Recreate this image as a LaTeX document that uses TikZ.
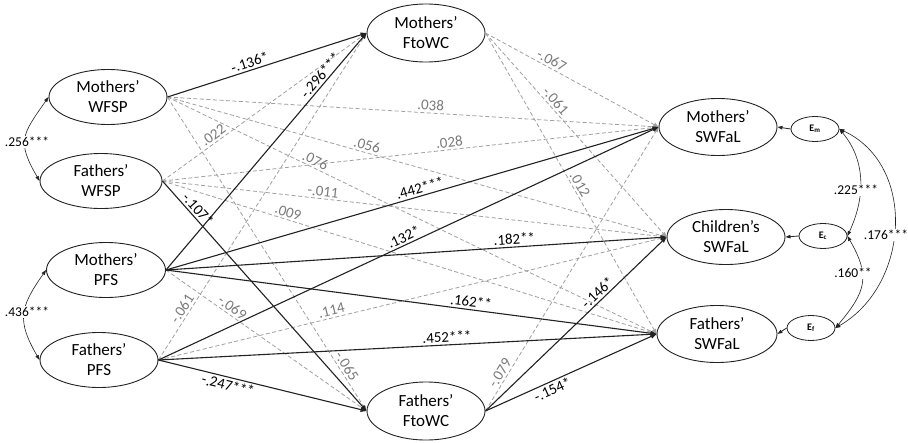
\documentclass[tikz,border=0pt]{standalone}
\usepackage{fontspec}
\setmainfont{Carlito}
\usetikzlibrary{shapes.geometric,arrows.meta}
\definecolor{dashgrey}{HTML}{A0A0A0}
\definecolor{labgrey}{HTML}{7A7A7A}
\definecolor{ink}{HTML}{222222}
\begin{document}
\begin{tikzpicture}[x=1pt,y=1pt,
  lat/.style={ellipse, draw=ink, line width=0.9pt, minimum width=118pt, minimum height=55pt, inner sep=0pt, align=center, font=\fontsize{17}{20}\selectfont},
  err/.style={ellipse, draw=ink, line width=0.8pt, minimum width=48pt, minimum height=25pt, inner sep=0pt, font=\fontsize{10}{12}\selectfont\bfseries},
  sig/.style={draw=ink, line width=1.1pt, -{Triangle[length=6pt,width=4.5pt]}},
  ns/.style={draw=dashgrey, line width=0.8pt, dash pattern=on 4pt off 2.5pt, -{Triangle[length=5pt,width=4pt]}},
  slab/.style={sloped, above, inner sep=2pt, font=\fontsize{15}{17}\selectfont, text=black},
  nlab/.style={sloped, above, inner sep=2pt, font=\fontsize{15}{17}\selectfont, text=labgrey},
  cov/.style={draw=ink, line width=0.6pt, {Triangle[length=5pt,width=3.5pt]}-{Triangle[length=5pt,width=3.5pt]}},
  covlab/.style={fill=white, inner sep=1pt, font=\fontsize{13.5}{15}\selectfont}
]
\useasboundingbox (0,0) rectangle (908,-442);
\fill[white] (0,0) rectangle (908,-442);

% latent variables
\node[lat] (mW) at (108,-97) {Mothers’\\WFSP};
\node[lat, minimum width=122pt] (fW) at (101,-181) {Fathers’\\WFSP};
\node[lat, minimum width=119pt] (mP) at (106,-270) {Mothers’\\PFS};
\node[lat] (fP) at (99,-360) {Fathers’\\PFS};
\node[lat, minimum height=58pt] (mF) at (426,-33) {Mothers’\\FtoWC};
\node[lat, minimum height=58pt] (fF) at (426,-411) {Fathers’\\FtoWC};
\node[lat, minimum height=57pt] (mS) at (718,-127) {Mothers’\\SWFaL};
\node[lat] (cS) at (726,-237) {Children’s\\SWFaL};
\node[lat, minimum width=120pt, minimum height=57pt] (fS) at (717,-334) {Fathers’\\SWFaL};
\node[err] (Em) at (815,-129) {E\textsubscript{m}};
\node[err] (Ec) at (823,-236) {E\textsubscript{c}};
\node[err] (Ef) at (811,-328) {E\textsubscript{f}};

% non-significant paths
\draw[ns] (fW.east) -- node[nlab, pos=0.27] {.022} (mF.west);
\draw[ns] (fP.east) -- node[nlab, pos=0.144] {-.061} (mF.west);
\draw[ns] (mW.east) -- node[nlab, pos=0.87] {-.065} (fF.west);
\draw[ns] (mP.east) -- node[nlab, pos=0.31] {-.069} (fF.west);
\draw[ns] (mW.east) -- node[nlab, pos=0.535] {.038} (mS.west);
\draw[ns] (fW.east) -- node[nlab, pos=0.58] {.028} (mS.west);
\draw[ns] (mF.east) -- node[nlab, pos=0.362] {-.067} (mS.west);
\draw[ns] (fF.east) -- node[nlab, pos=0.12] {-.079} (mS.west);
\draw[ns] (mW.east) -- node[nlab, pos=0.396] {.056} (cS.west);
\draw[ns] (fW.east) -- node[nlab, pos=0.317] {-.011} (cS.west);
\draw[ns] (fP.east) -- node[nlab, pos=0.344] {.114} (cS.west);
\draw[ns] (mF.east) -- node[nlab, pos=0.357] {-.061} (cS.west);
\draw[ns] (mW.east) -- node[nlab, pos=0.296] {.076} (fS.west);
\draw[ns] (fW.east) -- node[nlab, pos=0.25] {.009} (fS.west);
\draw[ns] (mF.east) -- node[nlab, pos=0.515] {.012} (fS.west);

% significant paths
\draw[sig] (mW.east) -- node[slab, pos=0.425] {-.136*} (mF.west);
\draw[sig] (mP.east) -- node[slab, pos=0.80] {-.296***} (mF.west);
\draw[sig] (fW.east) -- node[slab, pos=0.146] {-.107*} (fF.west);
\draw[sig] (fP.east) -- node[slab, below, pos=0.344] {-.247***} (fF.west);
\draw[sig] (mP.east) -- node[slab, pos=0.52] {.442***} (mS.west);
\draw[sig] (fP.east) -- node[slab, pos=0.497] {.132*} (mS.west);
\draw[sig] (mP.east) -- node[slab, pos=0.697] {.182**} (cS.west);
\draw[sig] (fF.east) -- node[slab, pos=0.648] {-.146*} (cS.west);
\draw[sig] (mP.east) -- node[slab, pos=0.62] {.162**} (fS.west);
\draw[sig] (fP.east) -- node[slab, pos=0.58] {.452***} (fS.west);
\draw[sig] (fF.east) -- node[slab, below, pos=0.372] {-.154*} (fS.west);

% error terms
\draw[sig, line width=0.8pt, -{Triangle[length=5pt,width=3.5pt]}] (Em.west) -- (mS.east);
\draw[sig, line width=0.8pt, -{Triangle[length=5pt,width=3.5pt]}] (Ec.west) -- (cS.east);
\draw[sig, line width=0.8pt, -{Triangle[length=5pt,width=3.5pt]}] (Ef.west) -- (fS.east);

% covariances
\draw[cov] (mW.west) to[out=235, in=120, looseness=1.4] (fW.west);
\node[covlab] (c1) at (27,-142) {.256***};
\draw[cov] (mP.west) to[out=235, in=120, looseness=1.3] (fP.west);
\node[covlab] (c2) at (27,-312) {.436***};
\draw[cov] (Em.east) to[out=-50, in=65] (Ec.east);
\node[covlab] (c3) at (856,-190) {.225***};
\draw[cov] (Ec.east) to[out=-60, in=50, looseness=1.3] (Ef.east);
\node[covlab] (c4) at (853,-273) {.160**};
\draw[cov] (Em.east) to[out=-25, in=30, looseness=1.1] (Ef.east);
\node[covlab] (c5) at (886,-235) {.176***};
\end{tikzpicture}
\end{document}
